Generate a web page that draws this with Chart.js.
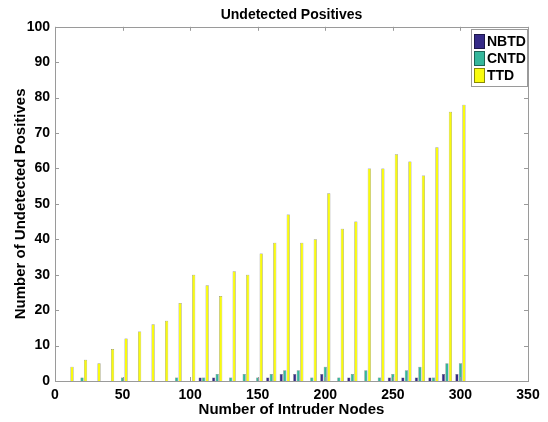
<!DOCTYPE html>
<html>
<head>
<meta charset="utf-8">
<title>Undetected Positives</title>
<script src="https://cdn.jsdelivr.net/npm/chart.js@4.4.1/dist/chart.umd.min.js"></script>
<style>
  html, body { margin: 0; padding: 0; background: #fff; }
  #chart { display: block; }
</style>
</head>
<body>
<canvas id="chart" width="548" height="422"></canvas>
<script>
// ---- data ----
const nodes = [10, 20, 30, 40, 50, 60, 70, 80, 90, 100, 110, 120, 130, 140, 150,
               160, 170, 180, 190, 200, 210, 220, 230, 240, 250, 260, 270, 280, 290, 300];
const nbtd  = [0, 0, 0, 0, 0, 0, 0, 0, 0, 0, 1, 1, 0, 0, 0,
               1, 2, 2, 0, 2, 0, 1, 0, 0, 1, 1, 1, 1, 2, 2];
const cntd  = [0, 1, 0, 0, 1, 0, 0, 0, 1, 0, 1, 2, 1, 2, 1,
               2, 3, 3, 1, 4, 1, 2, 3, 1, 2, 3, 4, 1, 5, 5];
const ttd   = [4, 6, 5, 9, 12, 14, 16, 17, 22, 30, 27, 24, 31, 30, 36,
               39, 47, 39, 40, 53, 43, 45, 60, 60, 64, 62, 58, 66, 76, 78];
const xTicks = [0, 50, 100, 150, 200, 250, 300, 350];
const yTicks = [0, 10, 20, 30, 40, 50, 60, 70, 80, 90, 100];

const FONT = "'Liberation Sans', Arial, Helvetica, sans-serif";
const TXT = '#000';

function pts(vals) { return nodes.map((x, i) => ({ x: x, y: vals[i] })); }

function ds(label, vals, color) {
  return {
    label: label, data: pts(vals),
    backgroundColor: color, borderColor: 'rgba(40,40,40,0.7)', borderWidth: 0.5,
    categoryPercentage: 0.78, barPercentage: 0.9
  };
}

// MATLAB-style box with inward ticks on all four sides
const boxTicks = {
  id: 'boxTicks',
  afterDatasetsDraw(chart) {
    const { ctx, chartArea: a, scales: { x, y } } = chart;
    const L = 4;
    ctx.save();
    ctx.strokeStyle = '#9a9a9a';
    ctx.lineWidth = 1;
    ctx.beginPath();
    xTicks.forEach(v => {
      const px = Math.round(x.getPixelForValue(v)) + 0.5;
      ctx.moveTo(px, a.bottom); ctx.lineTo(px, a.bottom - L);
      ctx.moveTo(px, a.top); ctx.lineTo(px, a.top + L);
    });
    yTicks.forEach(v => {
      const py = Math.round(y.getPixelForValue(v)) + 0.5;
      ctx.moveTo(a.left, py); ctx.lineTo(a.left + L, py);
      ctx.moveTo(a.right, py); ctx.lineTo(a.right - L, py);
    });
    ctx.stroke();
    ctx.strokeRect(Math.round(a.left) + 0.5, Math.round(a.top) + 0.5,
                   Math.round(a.right - a.left), Math.round(a.bottom - a.top));
    ctx.restore();
  },
  afterDraw(chart) {
    // legend box in the top-right corner of the axes
    const { ctx, chartArea: a } = chart;
    const w = 56, h = 57;
    const bx = Math.round(a.right) - w - 1, by = Math.round(a.top) + 2;
    ctx.save();
    ctx.fillStyle = '#fff';
    ctx.fillRect(bx, by, w, h);
    ctx.strokeStyle = '#9a9a9a';
    ctx.lineWidth = 1;
    ctx.strokeRect(bx + 0.5, by + 0.5, w, h);
    ctx.font = 'bold 14px ' + FONT;
    ctx.textBaseline = 'middle';
    chart.data.datasets.forEach((d, i) => {
      const cy = by + 12 + i * 17;
      ctx.fillStyle = d.backgroundColor;
      ctx.fillRect(bx + 3, cy - 7, 11, 15);
      ctx.strokeStyle = 'rgba(0,0,0,0.45)';
      ctx.strokeRect(bx + 3.5, cy - 6.5, 10, 14);
      ctx.fillStyle = TXT;
      ctx.fillText(d.label, bx + 16, cy + 1);
    });
    ctx.restore();
  }
};

new Chart(document.getElementById('chart'), {
  type: 'bar',
  data: {
    datasets: [
      ds('NBTD', nbtd, '#352a87'),
      ds('CNTD', cntd, '#35b79c'),
      ds('TTD', ttd, '#f9fb0e')
    ]
  },
  options: {
    responsive: false, animation: false,
    layout: { padding: { left: 0, right: 20, top: 0, bottom: 0 } },
    scales: {
      x: {
        type: 'linear', min: 0, max: 350, offset: false,
        afterBuildTicks: s => { s.ticks = xTicks.map(v => ({ value: v })); },
        afterFit: s => { s.height = 41; },
        grid: { display: false, drawTicks: false }, border: { display: false },
        ticks: { color: TXT, padding: 6, maxRotation: 0, font: { family: FONT, size: 14, weight: 'bold' } },
        title: { display: true, text: 'Number of Intruder Nodes', color: TXT,
                 padding: { top: 0, bottom: 3 }, font: { family: FONT, size: 15, weight: 'bold' } }
      },
      y: {
        min: 0, max: 100,
        afterBuildTicks: s => { s.ticks = yTicks.map(v => ({ value: v })); },
        afterFit: s => { s.width = 55; },
        grid: { display: false, drawTicks: false }, border: { display: false },
        ticks: { color: TXT, padding: 5, font: { family: FONT, size: 14, weight: 'bold' } },
        title: { display: true, text: 'Number of Undetected Positives', color: TXT,
                 padding: { top: 12, bottom: 0 }, font: { family: FONT, size: 15, weight: 'bold' } }
      }
    },
    plugins: {
      legend: { display: false },
      tooltip: { enabled: false },
      title: {
        display: true, text: 'Undetected Positives', color: TXT, fullSize: false,
        padding: { top: 7, bottom: 3 }, font: { family: FONT, size: 14, weight: 'bold' }
      }
    }
  },
  plugins: [boxTicks]
});
</script>
</body>
</html>
